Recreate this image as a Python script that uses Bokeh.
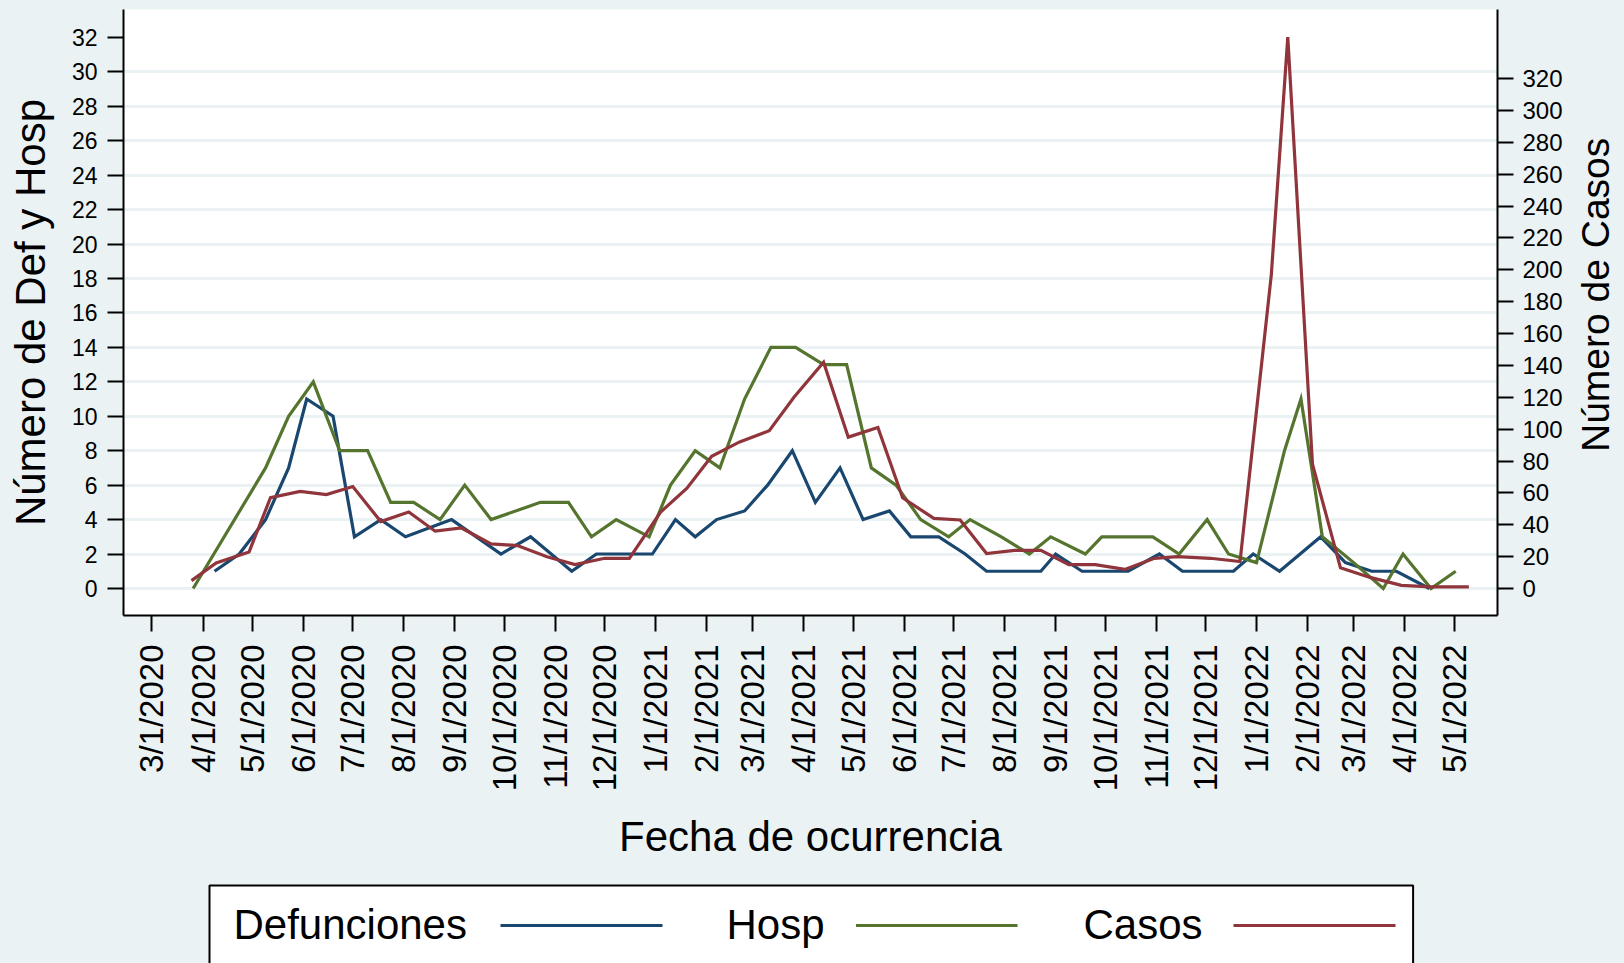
import math
from datetime import datetime, timedelta
import pandas as pd
from bokeh.plotting import figure
from bokeh.models import Range1d, LinearAxis, FixedTicker, ColumnDataSource
from bokeh.layouts import column, row
from bokeh.core.properties import value
from bokeh.embed import file_html
from bokeh.resources import INLINE

# ---------------- data ----------------
series_names = ["Defunciones", "Hosp", "Casos"]
series_colors = ["#1A476F", "#55752F", "#90353B"]

def_dates = ["2020-04-08", "2020-04-23", "2020-05-09", "2020-05-23", "2020-06-03", "2020-06-19",
             "2020-07-02", "2020-07-18", "2020-08-02", "2020-08-30", "2020-09-29", "2020-10-17",
             "2020-11-11", "2020-11-26", "2020-12-30", "2021-01-13", "2021-01-25", "2021-02-07",
             "2021-02-24", "2021-03-10", "2021-03-25", "2021-04-08", "2021-04-23", "2021-05-07",
             "2021-05-23", "2021-06-05", "2021-06-22", "2021-07-08", "2021-07-21", "2021-08-23",
             "2021-09-01", "2021-09-17", "2021-10-15", "2021-11-03", "2021-11-17", "2021-12-18",
             "2021-12-30", "2022-01-15", "2022-02-09", "2022-02-24", "2022-03-12", "2022-03-27",
             "2022-04-16"]
def_values = [1, 2, 4, 7, 11, 10,
              3, 4, 3, 4, 2, 3,
              1, 2, 2, 4, 3, 4,
              4.5, 6, 8, 5, 7, 4,
              4.5, 3, 3, 2, 1, 1,
              2, 1, 1, 2, 1, 1,
              2, 1, 3, 1.5, 1, 1,
              0]

hosp_dates = ["2020-03-26", "2020-05-09", "2020-05-23", "2020-06-07", "2020-06-23", "2020-07-10",
              "2020-07-24", "2020-08-07", "2020-08-23", "2020-09-07", "2020-09-23", "2020-10-23",
              "2020-11-09", "2020-11-23", "2020-12-08", "2020-12-28", "2021-01-10", "2021-01-25",
              "2021-02-09", "2021-02-24", "2021-03-12", "2021-03-27", "2021-04-13", "2021-04-27",
              "2021-05-12", "2021-05-27", "2021-06-11", "2021-06-28", "2021-07-11", "2021-07-30",
              "2021-08-16", "2021-08-29", "2021-09-19", "2021-09-29", "2021-10-30", "2021-11-15",
              "2021-12-02", "2021-12-15", "2022-01-01", "2022-01-18", "2022-01-28", "2022-02-10",
              "2022-03-01", "2022-03-19", "2022-03-31", "2022-04-17", "2022-05-02"]
hosp_values = [0, 7, 10, 12, 8, 8,
               5, 5, 4, 6, 4, 5,
               5, 3, 4, 3, 6, 8,
               7, 11, 14, 14, 13, 13,
               7, 6, 4, 3, 4, 3,
               2, 3, 2, 3, 3, 2,
               4, 2, 1.5, 8, 11, 3,
               1.5, 0, 2, 0, 1]

casos_dates = ["2020-03-25", "2020-04-09", "2020-04-29", "2020-05-12", "2020-05-30", "2020-06-15",
               "2020-07-01", "2020-07-18", "2020-08-04", "2020-08-20", "2020-09-05", "2020-09-23",
               "2020-10-09", "2020-10-27", "2020-11-13", "2020-12-01", "2020-12-16", "2021-01-04",
               "2021-01-20", "2021-02-04", "2021-02-21", "2021-03-11", "2021-03-26", "2021-04-13",
               "2021-04-28", "2021-05-16", "2021-05-31", "2021-06-19", "2021-07-05", "2021-07-21",
               "2021-08-07", "2021-08-23", "2021-09-09", "2021-09-25", "2021-10-13", "2021-10-31",
               "2021-11-14", "2021-12-04", "2021-12-22", "2022-01-10", "2022-01-20", "2022-02-04",
               "2022-02-21", "2022-03-11", "2022-03-30", "2022-04-17", "2022-05-10"]
casos_values = [5, 16, 23, 57, 61, 59,
                64, 42, 48, 36, 38, 28,
                27, 20, 15, 19, 19, 48,
                63, 83, 92, 99, 120, 142,
                95, 101, 57, 44, 43, 22,
                24, 24, 15, 15, 12, 19,
                20, 19, 17, 197, 346, 78,
                13, 7, 2, 1, 1]

tick_dates = ["2020-03-01", "2020-04-01", "2020-05-01", "2020-06-01", "2020-07-01", "2020-08-01",
              "2020-09-01", "2020-10-01", "2020-11-01", "2020-12-01", "2021-01-01", "2021-02-01",
              "2021-03-01", "2021-04-01", "2021-05-01", "2021-06-01", "2021-07-01", "2021-08-01",
              "2021-09-01", "2021-10-01", "2021-11-01", "2021-12-01", "2022-01-01", "2022-02-01",
              "2022-03-01", "2022-04-01", "2022-05-01"]
tick_labels = ["3/1/2020", "4/1/2020", "5/1/2020", "6/1/2020", "7/1/2020", "8/1/2020",
               "9/1/2020", "10/1/2020", "11/1/2020", "12/1/2020", "1/1/2021", "2/1/2021",
               "3/1/2021", "4/1/2021", "5/1/2021", "6/1/2021", "7/1/2021", "8/1/2021",
               "9/1/2021", "10/1/2021", "11/1/2021", "12/1/2021", "1/1/2022", "2/1/2022",
               "3/1/2022", "4/1/2022", "5/1/2022"]
left_ticks = [0, 2, 4, 6, 8, 10, 12, 14, 16, 18, 20, 22, 24, 26, 28, 30, 32]
left_grid = [0, 2, 4, 6, 8, 10, 12, 14, 16, 18, 20, 22, 24, 26, 28, 30]
right_ticks = [0, 20, 40, 60, 80, 100, 120, 140, 160, 180, 200, 220, 240, 260, 280, 300, 320]

x_title = "Fecha de ocurrencia"
left_title = "Número de Def y Hosp"
right_title = "Número de Casos"

# ---------------- style ----------------
BG = "#EAF2F3"
FONT = "Liberation Sans"
TOTAL_W = 1624
STRIP_W = 58
MAIN_W = TOTAL_W - STRIP_W
MAIN_H = 877
LEG_H = 86

def ms(d):
    return int(pd.Timestamp(d).value // 10**6)

x0 = datetime(2020, 3, 1) - timedelta(days=17.3)
x1 = datetime(2020, 3, 1) + timedelta(days=817.4)

p = figure(width=MAIN_W, height=MAIN_H, x_axis_type="datetime",
           x_range=Range1d(x0, x1), y_range=Range1d(-1.57, 33.62),
           output_backend="svg", toolbar_location=None,
           background_fill_color="white", border_fill_color=BG,
           outline_line_color=None,
           min_border_left=123, min_border_right=69, min_border_top=9, min_border_bottom=262)
p.extra_y_ranges = {"casos": Range1d(-16.9, 363.3)}

p.xgrid.visible = False
p.ygrid.ticker = FixedTicker(ticks=left_grid)
p.ygrid.grid_line_color = BG
p.ygrid.grid_line_width = 3

srcs = [
    ColumnDataSource(dict(x=pd.to_datetime(def_dates), y=def_values)),
    ColumnDataSource(dict(x=pd.to_datetime(hosp_dates), y=hosp_values)),
    ColumnDataSource(dict(x=pd.to_datetime(casos_dates), y=casos_values)),
]
p.line("x", "y", source=srcs[0], color=series_colors[0], line_width=3.2, line_join="miter")
p.line("x", "y", source=srcs[1], color=series_colors[1], line_width=3.2, line_join="miter")
p.line("x", "y", source=srcs[2], color=series_colors[2], line_width=3.2, line_join="miter",
       y_range_name="casos")

def style_axis(ax, size):
    ax.axis_line_color = "black"
    ax.axis_line_width = 2
    ax.major_tick_line_color = "black"
    ax.major_tick_line_width = 2
    ax.major_tick_in = 0
    ax.major_tick_out = 16
    ax.minor_tick_line_color = None
    ax.major_label_text_font = FONT
    ax.major_label_text_font_size = size
    ax.major_label_text_color = "black"
    ax.axis_label_text_font = FONT
    ax.axis_label_text_font_size = "42px"
    ax.axis_label_text_font_style = "normal"
    ax.axis_label_text_color = "black"

xa = p.xaxis[0]
style_axis(xa, "33px")
xa.ticker = FixedTicker(ticks=[ms(d) for d in tick_dates])
xa.major_label_overrides = {ms(d): lab for d, lab in zip(tick_dates, tick_labels)}
xa.major_label_orientation = math.pi / 2
xa.major_label_standoff = 13
xa.axis_label = x_title
xa.axis_label_standoff = 19

ya = p.yaxis[0]
style_axis(ya, "23px")
ya.ticker = FixedTicker(ticks=left_ticks)
ya.major_label_standoff = 10
ya.axis_label = left_title
ya.axis_label_standoff = 15

ra = LinearAxis(y_range_name="casos")
style_axis(ra, "24px")
ra.ticker = FixedTicker(ticks=right_ticks)
ra.major_label_standoff = 9
p.add_layout(ra, "right")

# ---------------- right title strip ----------------
strip = figure(width=STRIP_W, height=MAIN_H, x_range=Range1d(0, STRIP_W), y_range=Range1d(0, MAIN_H),
               output_backend="svg", toolbar_location=None,
               x_axis_location=None, y_axis_location=None,
               background_fill_color=BG, border_fill_color=BG, outline_line_color=None,
               min_border=0)
strip.xgrid.visible = False
strip.ygrid.visible = False
strip.text(x=[29], y=[464], text=[right_title], angle=math.pi / 2,
           text_font=value(FONT), text_font_size="39px", text_color="black",
           text_align="center", text_baseline="alphabetic")

# ---------------- legend strip ----------------
leg = figure(width=TOTAL_W, height=LEG_H, x_range=Range1d(0, TOTAL_W), y_range=Range1d(0, LEG_H),
             output_backend="svg", toolbar_location=None,
             x_axis_location=None, y_axis_location=None,
             background_fill_color=BG, border_fill_color=BG, outline_line_color=None,
             min_border=0)
leg.xgrid.visible = False
leg.ygrid.visible = False
leg.quad(left=[209], right=[1412.6], top=[78], bottom=[-60],
         fill_color="white", line_color="black", line_width=2)
leg.text(x=[233, 726, 1083], y=[39, 39, 39], text=series_names,
         text_font=value(FONT), text_font_size="42px", text_color="black",
         text_align="left", text_baseline="alphabetic")
leg.segment(x0=[500, 855.5, 1233], y0=[38, 38, 38], x1=[662, 1017, 1395], y1=[38, 38, 38],
            line_color=series_colors, line_width=3.2)

layout = column(row(p, strip, spacing=0, styles={"background-color": BG}), leg, spacing=0,
                styles={"background-color": BG})
open("out.html", "w").write(file_html(layout, INLINE))
